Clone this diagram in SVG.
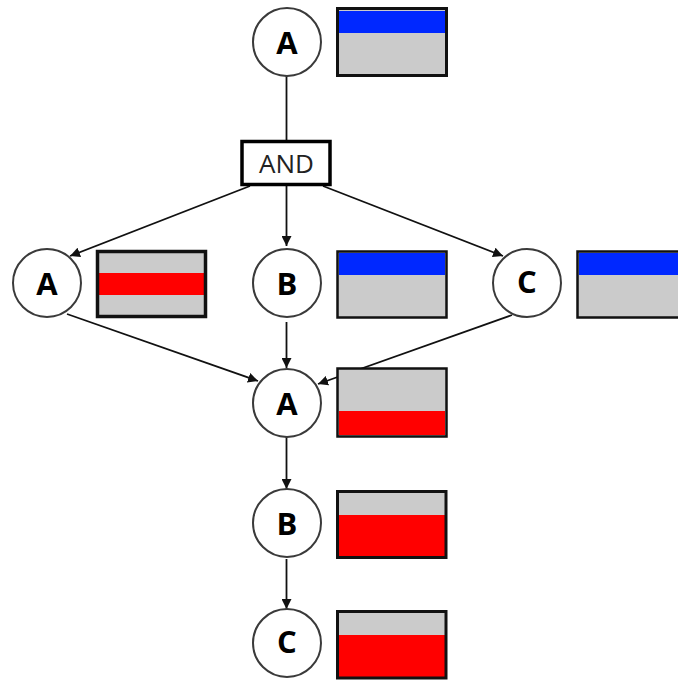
<svg xmlns="http://www.w3.org/2000/svg" width="678" height="680" viewBox="0 0 678 680">
<style>
.c{fill:#fff;stroke:#3a3a3a;stroke-width:2}
.l{font-family:"Open Sans","Liberation Sans",sans-serif;font-weight:700;font-size:31px;fill:#000;text-anchor:middle}
.a{font-family:"Open Sans","Liberation Sans",sans-serif;font-size:26px;fill:#222;text-anchor:middle}
.g{fill:#cbcbcb}
.b{fill:#0028ff}
.r{fill:#ff0000}
.f{fill:none;stroke:#111}
.e{fill:none;stroke:#111;stroke-width:1.8}
</style>
<defs><marker id="m" markerUnits="userSpaceOnUse" markerWidth="11" markerHeight="10" refX="10" refY="5" orient="auto"><path d="M0 0L10 5L0 10z" fill="#111"/></marker></defs>
<rect width="678" height="680" fill="#fff"/>
<g id="connectors">
<path class="e" d="M286.500 76V141"/>
<path class="e" d="M250 186L70 256" marker-end="url(#m)"/>
<path class="e" d="M286.500 186V246" marker-end="url(#m)"/>
<path class="e" d="M323 186L503 256" marker-end="url(#m)"/>
<path class="e" d="M67 314L258 381" marker-end="url(#m)"/>
<path class="e" d="M286.500 322V368" marker-end="url(#m)"/>
<path class="e" d="M512 315L318 384" marker-end="url(#m)"/>
<path class="e" d="M286.500 437V489" marker-end="url(#m)"/>
<path class="e" d="M286.500 559V609" marker-end="url(#m)"/>
</g>
<g id="node-a1"><circle class="c" cx="287" cy="42" r="34"/><text class="l" x="287" y="54">A</text></g>
<g id="state-a1"><rect class="g" x="338" y="9" width="108" height="66"/><rect class="b" x="339" y="11" width="106" height="22"/><rect class="f" stroke-width="3" x="337.500" y="8.500" width="109" height="67"/></g>
<g id="node-and"><rect x="242" y="141.500" width="88" height="43" fill="#fff" stroke="#000" stroke-width="3.500"/><text class="a" x="286.500" y="173">AND</text></g>
<g id="node-a2"><circle class="c" cx="47" cy="283" r="34"/><text class="l" x="47" y="295">A</text></g>
<g id="state-a2"><rect class="g" x="98" y="252" width="107" height="65"/><rect class="r" x="99" y="273" width="105" height="22"/><rect class="f" stroke-width="3.500" x="97.500" y="251.500" width="108" height="65"/></g>
<g id="node-b1"><circle class="c" cx="287" cy="283" r="34"/><text class="l" x="287" y="295">B</text></g>
<g id="state-b1"><rect class="g" x="338" y="252" width="108" height="66"/><rect class="b" x="339" y="253" width="106" height="22"/><rect class="f" stroke-width="2.500" x="337.500" y="251.500" width="109" height="66"/></g>
<g id="node-c1"><circle class="c" cx="527" cy="283" r="34"/><text class="l" x="527" y="293">C</text></g>
<g id="state-c1"><rect class="g" x="578" y="252" width="100" height="66"/><rect class="b" x="579" y="253" width="99" height="22"/><path class="f" stroke-width="2.500" d="M678 251.500H577.500V317.500H678"/></g>
<g id="node-a3"><circle class="c" cx="287" cy="403" r="34"/><text class="l" x="287" y="415">A</text></g>
<g id="state-a3"><rect class="g" x="338" y="369" width="108" height="67"/><rect class="r" x="339" y="411" width="106" height="24"/><rect class="f" stroke-width="2.500" x="337.500" y="368.500" width="109" height="68"/></g>
<g id="node-b2"><circle class="c" cx="287" cy="523" r="34"/><text class="l" x="287" y="535">B</text></g>
<g id="state-b2"><rect class="g" x="339" y="491" width="106" height="67"/><rect class="r" x="339" y="515" width="106" height="43"/><rect class="f" stroke-width="3" x="337.500" y="491.500" width="108.500" height="66"/></g>
<g id="node-c2"><circle class="c" cx="287" cy="643" r="34"/><text class="l" x="287" y="653">C</text></g>
<g id="state-c2"><rect class="g" x="339" y="611" width="106" height="67"/><rect class="r" x="339" y="635" width="106" height="43"/><rect class="f" stroke-width="3" x="337.500" y="611.500" width="108.500" height="66.500"/></g>
</svg>
